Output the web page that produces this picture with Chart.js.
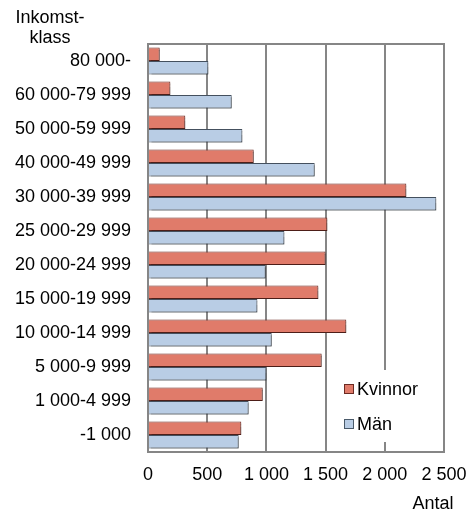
<!DOCTYPE html>
<html>
<head>
<meta charset="utf-8">
<script src="https://cdn.jsdelivr.net/npm/chart.js@4"></script>
<style>
html,body{margin:0;padding:0;background:#fff;}
#wrap{width:470px;height:515px;}
</style>
</head>
<body>
<div id="wrap"><canvas id="c" width="470" height="515"></canvas></div>
<script>
const categories = ["80 000-","60 000-79 999","50 000-59 999","40 000-49 999","30 000-39 999","25 000-29 999","20 000-24 999","15 000-19 999","10 000-14 999","5 000-9 999","1 000-4 999","-1 000"];
const kvinnor = [99, 189, 315, 893, 2182, 1515, 1500, 1439, 1675, 1467, 969, 788];
const man = [510, 707, 797, 1408, 2435, 1152, 994, 924, 1045, 1000, 850, 766];
const seriesNames = ["Kvinnor", "Män"];
const axisTitleY = ["Inkomst-", "klass"];
const axisTitleX = "Antal";
const xMin = 0, xMax = 2500, xStep = 500;

const FONT = '"Liberation Sans", Arial, sans-serif';
const RED = '#E07B6A', BLUE = '#B9CDE5';

function fmt(v){ return String(v).replace(/\B(?=(\d{3})+(?!\d))/g, ' '); }

const extras = {
  id: 'extras',
  beforeDatasetsDraw(chart){
    const {ctx, chartArea:a} = chart;
    ctx.save();
    ctx.strokeStyle = '#868686';
    ctx.lineWidth = 2;
    ctx.strokeRect(a.left, a.top, a.right - a.left, a.bottom - a.top);
    ctx.restore();
    ctx.save();
    ctx.shadowColor = 'rgba(0,0,0,0.28)';
    ctx.shadowOffsetX = 2;
    ctx.shadowOffsetY = 2;
    ctx.shadowBlur = 1;
  },
  afterDatasetsDraw(chart){
    chart.ctx.restore();
  },
  afterDraw(chart){
    const {ctx, chartArea:a} = chart;
    ctx.save();
    // legend box
    ctx.fillStyle = '#fff';
    ctx.fillRect(338, 370, 100, 72);
    const items = [{c:RED, b:'#6b2a22', t:seriesNames[0], y:389}, {c:BLUE, b:'#4a5a6a', t:seriesNames[1], y:424}];
    ctx.font = '18px ' + FONT;
    ctx.textBaseline = 'middle';
    ctx.textAlign = 'left';
    for (const it of items){
      ctx.fillStyle = it.c;
      ctx.fillRect(344.5, it.y - 4.5, 9, 9);
      ctx.strokeStyle = it.b;
      ctx.lineWidth = 1;
      ctx.strokeRect(344.5, it.y - 4.5, 9, 9);
      ctx.fillStyle = '#000';
      ctx.fillText(it.t, 357, it.y + 1);
    }
    // titles
    ctx.textAlign = 'center';
    ctx.textBaseline = 'alphabetic';
    ctx.fillText(axisTitleY[0], 50, 23);
    ctx.fillText(axisTitleY[1], 50, 43);
    ctx.fillText(axisTitleX, 433, 509);
    ctx.restore();
  }
};

new Chart(document.getElementById('c'), {
  type: 'bar',
  data: {
    labels: categories,
    datasets: [
      {label: seriesNames[0], data: kvinnor, backgroundColor: RED, borderColor: '#6b2a22', borderWidth: 1, categoryPercentage: 0.8, barPercentage: 1.0},
      {label: seriesNames[1], data: man, backgroundColor: BLUE, borderColor: '#44505e', borderWidth: 1, categoryPercentage: 0.8, barPercentage: 1.0}
    ]
  },
  options: {
    indexAxis: 'y',
    responsive: false,
    animation: false,
    events: [],
    layout: {padding: {top: 44, right: 26, left: 0, bottom: 0}},
    plugins: {legend: {display: false}, tooltip: {enabled: false}, title: {display: false}},
    scales: {
      x: {
        min: xMin, max: xMax,
        afterFit(s){ s.height = 63; s.paddingLeft = 0; s.paddingRight = 0; },
        ticks: {stepSize: xStep, color: '#000', font: {family: FONT, size: 18}, padding: 12, maxRotation: 0, callback: v => fmt(v)},
        grid: {color: '#868686', lineWidth: 2, drawTicks: false},
        border: {display: false}
      },
      y: {
        afterFit(s){ s.width = 148; s.paddingTop = 0; s.paddingBottom = 0; },
        ticks: {color: '#000', font: {family: FONT, size: 18}, padding: 17},
        grid: {display: false, drawTicks: false},
        border: {display: false}
      }
    }
  },
  plugins: [extras]
});
</script>
</body>
</html>
